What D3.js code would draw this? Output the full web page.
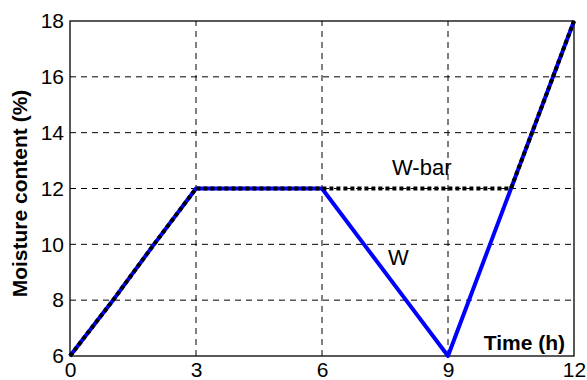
<!DOCTYPE html>
<html>
<head>
<meta charset="utf-8">
<script src="https://cdn.jsdelivr.net/npm/d3@7"></script>
<style>
  body { margin: 0; background: #fff; overflow: hidden; }
  text { font-family: "Liberation Sans", Arial, sans-serif; }
</style>
</head>
<body>
<div id="chart"></div>
<script>
// data
var hours  = [0, 1, 2, 3, 4, 5, 6, 7, 8, 9, 10, 11, 12];
var wVals  = [6, 7.95, 10, 12, 12, 12, 12, 10, 8, 6, 10, 14, 18];
var barHours = [0, 1, 2, 3, 4, 5, 6, 10.5, 11, 12];
var barVals  = [6, 7.95, 10, 12, 12, 12, 12, 12, 14, 18];
var xTicks = [0, 3, 6, 9, 12];
var yTicks = [6, 8, 10, 12, 14, 16, 18];

var width = 587, height = 380;
var margin = {top: 21, right: 13, bottom: 24, left: 70};

var svg = d3.select("#chart").append("svg")
  .attr("width", width)
  .attr("height", height)
  .style("display", "block");

var x = d3.scaleLinear().domain([0, 12]).range([margin.left, width - margin.right]);
var y = d3.scaleLinear().domain([6, 18]).range([height - margin.bottom, margin.top]);

// grid
svg.append("g").selectAll("line.vg")
  .data(xTicks.slice(1, -1))
  .enter().append("line")
  .attr("x1", function(d) { return x(d); })
  .attr("x2", function(d) { return x(d); })
  .attr("y1", y(6)).attr("y2", y(18))
  .attr("stroke", "#000").attr("stroke-width", 1)
  .attr("stroke-dasharray", "6,5");

svg.append("g").selectAll("line.hg")
  .data(yTicks.slice(1, -1))
  .enter().append("line")
  .attr("y1", function(d) { return y(d); })
  .attr("y2", function(d) { return y(d); })
  .attr("x1", x(0)).attr("x2", x(12))
  .attr("stroke", "#000").attr("stroke-width", 1)
  .attr("stroke-dasharray", "6,5");

// axes
var xAxis = d3.axisBottom(x).tickValues(xTicks).tickSize(0).tickPadding(6);
var yAxis = d3.axisLeft(y).tickValues(yTicks).tickSize(0).tickPadding(6);

svg.append("g")
  .attr("transform", "translate(0," + y(6) + ")")
  .call(xAxis)
  .call(function(g) { g.select(".domain").remove(); })
  .selectAll("text").attr("font-size", 21).attr("fill", "#000")
  .attr("font-family", "Liberation Sans, Arial, sans-serif");

svg.append("g")
  .attr("transform", "translate(" + x(0) + ",0)")
  .call(yAxis)
  .call(function(g) { g.select(".domain").remove(); })
  .selectAll("text").attr("font-size", 21).attr("fill", "#000")
  .attr("font-family", "Liberation Sans, Arial, sans-serif");

// box
svg.append("rect")
  .attr("x", x(0)).attr("y", y(18))
  .attr("width", x(12) - x(0)).attr("height", y(6) - y(18))
  .attr("fill", "none").attr("stroke", "#000").attr("stroke-width", 1.3);

// lines
var line = d3.line()
  .x(function(d) { return x(d[0]); })
  .y(function(d) { return y(d[1]); });

svg.append("path")
  .datum(d3.zip(hours, wVals))
  .attr("d", line)
  .attr("fill", "none")
  .attr("stroke", "#0000ff")
  .attr("stroke-width", 4)
  .attr("stroke-linejoin", "round");

svg.append("path")
  .datum(d3.zip(barHours, barVals))
  .attr("d", line)
  .attr("fill", "none")
  .attr("stroke", "#000")
  .attr("stroke-width", 4)
  .attr("stroke-dasharray", "4,3");

// labels
svg.append("text")
  .attr("transform", "translate(27," + ((y(6) + y(18)) / 2 + 5) + ") rotate(-90)")
  .attr("text-anchor", "middle")
  .attr("font-size", 21).attr("font-weight", "bold")
  .text("Moisture content (%)");

svg.append("text")
  .attr("x", 565).attr("y", 350)
  .attr("text-anchor", "end")
  .attr("font-size", 21).attr("font-weight", "bold")
  .text("Time (h)");

svg.append("text")
  .attr("x", 392).attr("y", 175)
  .attr("font-size", 22)
  .text("W-bar");

svg.append("text")
  .attr("x", 388).attr("y", 265)
  .attr("font-size", 22)
  .text("W");
</script>
</body>
</html>
